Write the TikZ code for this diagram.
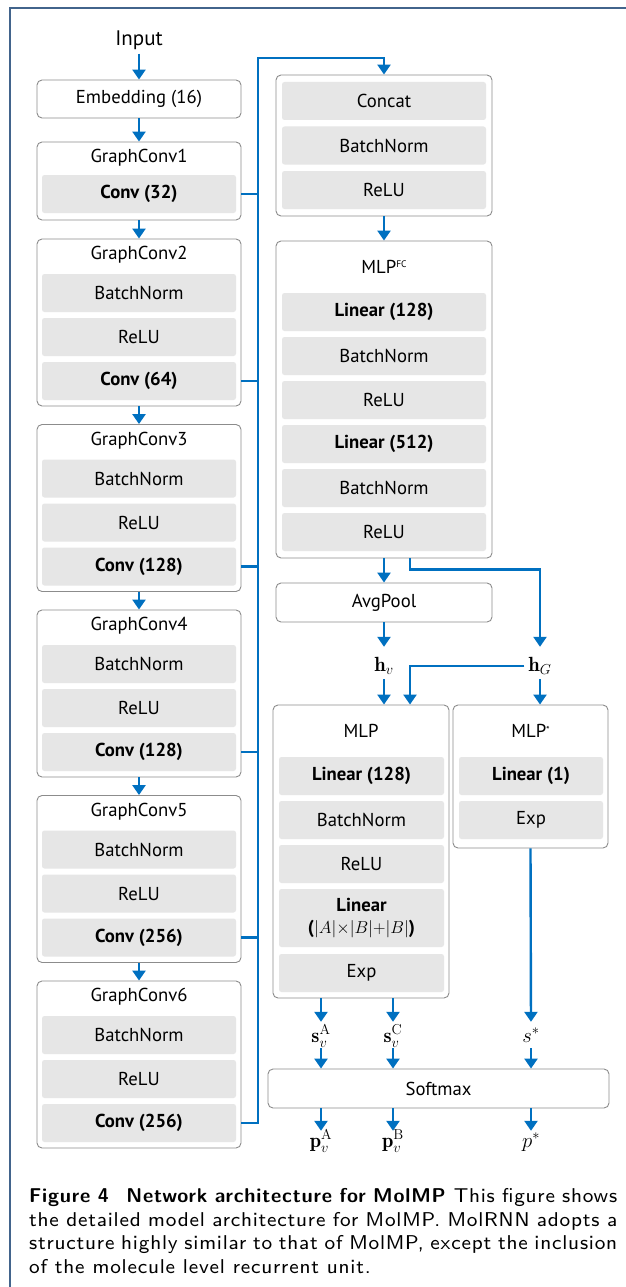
\documentclass[tikz,border=0pt]{standalone}
\usepackage{amsmath}
\usepackage{fontspec}
\usetikzlibrary{arrows.meta}
\newfontfamily\dfont{PT Sans}
\newfontfamily\capfont{lmsans8-regular.otf}[BoldFont=lmsans10-bold.otf, LetterSpace=4]
\definecolor{flow}{RGB}{0,112,192}
\definecolor{innerg}{RGB}{230,230,230}
\definecolor{outerg}{RGB}{140,140,140}
\definecolor{frameblue}{RGB}{66,100,140}
\newcommand\bx[7]{\node[#1, minimum width={(#5)-(#3)}, minimum height={(#6)-(#4)}] (#2) at ({((#3)+(#5))/2},{((#4)+(#6))/2}) {#7};}
\tikzset{
 outerbox/.style={draw=outerg, line width=0.9pt, fill=white, rounded corners=5pt, inner sep=0pt},
 innerbox/.style={fill=innerg, rounded corners=2.5pt, inner sep=0pt, align=center},
 ttl/.style={inner sep=0pt},
 lbl/.style={inner sep=0pt, text height=14pt, text depth=4pt, font=\fontsize{20.5}{23}\selectfont},
 biglbl/.style={lbl, font=\fontsize{22.5}{25}\selectfont},
 flowline/.style={draw=flow, line width=2.4pt},
 flowarrow/.style={flowline, -{Triangle[width=13pt,length=10pt]}},
}
\begin{document}
\begin{tikzpicture}[x=1pt,y=-1pt,font=\dfont\fontsize{18.7}{21.5}\selectfont]
\useasboundingbox (0,0) rectangle (626,1287);
\fill[white] (0,0) rectangle (626,1287);
\draw[frameblue, line width=1.6pt] (10,1287) -- (10,8) -- (626,8);

% ---- left column ----
\node[ttl, font=\dfont\fontsize{21}{24}\selectfont] (in) at (139,40) {Input};
\bx{outerbox}{emb}{37}{80}{241}{118}{Embedding (16)}

\bx{outerbox}{gc1}{37}{142}{241}{220}{}
\node[ttl] (t1) at (139,158) {GraphConv1};
\bx{innerbox}{conv1}{42}{175}{236}{213}{\bfseries Conv (32)}

\bx{outerbox}{gc2}{37}{239}{241}{406}{}
\node[ttl] (t2) at (139,255) {GraphConv2};
\bx{innerbox}{bn2}{42}{274}{236}{312}{BatchNorm}
\bx{innerbox}{re2}{42}{318}{236}{356}{ReLU}
\bx{innerbox}{conv2}{42}{362}{236}{400}{\bfseries Conv (64)}

\bx{outerbox}{gc3}{37}{424.5}{241}{591.5}{}
\node[ttl] (t3) at (139,440.5) {GraphConv3};
\bx{innerbox}{bn3}{42}{459.5}{236}{497.5}{BatchNorm}
\bx{innerbox}{re3}{42}{503.5}{236}{541.5}{ReLU}
\bx{innerbox}{conv3}{42}{547.5}{236}{585.5}{\bfseries Conv (128)}

\bx{outerbox}{gc4}{37}{610}{241}{777}{}
\node[ttl] (t4) at (139,626) {GraphConv4};
\bx{innerbox}{bn4}{42}{645}{236}{683}{BatchNorm}
\bx{innerbox}{re4}{42}{689}{236}{727}{ReLU}
\bx{innerbox}{conv4}{42}{733}{236}{771}{\bfseries Conv (128)}

\bx{outerbox}{gc5}{37}{795.5}{241}{962.5}{}
\node[ttl] (t5) at (139,811.5) {GraphConv5};
\bx{innerbox}{bn5}{42}{830.5}{236}{868.5}{BatchNorm}
\bx{innerbox}{re5}{42}{874.5}{236}{912.5}{ReLU}
\bx{innerbox}{conv5}{42}{918.5}{236}{956.5}{\bfseries Conv (256)}

\bx{outerbox}{gc6}{37}{981}{241}{1148}{}
\node[ttl] (t6) at (139,997) {GraphConv6};
\bx{innerbox}{bn6}{42}{1016}{236}{1054}{BatchNorm}
\bx{innerbox}{re6}{42}{1060}{236}{1098}{ReLU}
\bx{innerbox}{conv6}{42}{1104}{236}{1142}{\bfseries Conv (256)}

% ---- right column ----
\bx{outerbox}{cbox}{276}{75}{492}{216}{}
\bx{innerbox}{concat}{282}{82}{486}{120}{Concat}
\bx{innerbox}{cbn}{282}{126.5}{486}{164.5}{BatchNorm}
\bx{innerbox}{cre}{282}{171}{486}{209}{ReLU}

\bx{outerbox}{mlpfc}{276}{241}{492}{558}{}
\node[ttl] (tfc) at (384,267) {MLP\raisebox{6pt}{\fontsize{9.5}{9.5}\selectfont FC}};
\bx{innerbox}{fl1}{282}{293}{486}{331}{\bfseries Linear (128)}
\bx{innerbox}{fbn1}{282}{337}{486}{375}{BatchNorm}
\bx{innerbox}{fre1}{282}{381}{486}{419}{ReLU}
\bx{innerbox}{fl2}{282}{425}{486}{463}{\bfseries Linear (512)}
\bx{innerbox}{fbn2}{282}{469}{486}{507}{BatchNorm}
\bx{innerbox}{fre2}{282}{513}{486}{551}{ReLU}

\bx{outerbox}{avg}{276}{583}{492}{622}{AvgPool}

\node[lbl, anchor=base] (hv) at (384,671) {$\mathbf{h}_v$};
\node[lbl, anchor=base] (hG) at (540,671) {$\mathbf{h}_G$};

\bx{outerbox}{mlp}{273}{705}{449}{998}{}
\node[ttl] (tmlp) at (361,731) {MLP};
\bx{innerbox}{ml1}{279}{757}{444}{795}{\bfseries Linear (128)}
\bx{innerbox}{mbn}{279}{801}{444}{839}{BatchNorm}
\bx{innerbox}{mre}{279}{845}{444}{883}{ReLU}
\bx{innerbox}{ml2}{279}{889}{444}{947}{\bfseries Linear\\[1pt]{\bfseries(}$|A|{\times}|B|{+}|B|${\bfseries)}}
\bx{innerbox}{mexp}{279}{954}{444}{992}{Exp}

\bx{outerbox}{mlps}{453}{705}{608}{848}{}
\node[ttl] (tmlps) at (530.5,731) {MLP\raisebox{4pt}{\fontsize{10}{10}\selectfont *}};
\bx{innerbox}{sl1}{459}{757}{603}{795}{\bfseries Linear (1)}
\bx{innerbox}{sexp}{459}{801}{603}{839}{Exp}

\node[lbl, anchor=base, text height=15pt] (sA) at (321,1042) {$\mathbf{s}_v^{\mathrm{A}}$};
\node[lbl, anchor=base, text height=15pt] (sC) at (393,1042) {$\mathbf{s}_v^{\mathrm{C}}$};
\node[biglbl, anchor=base, text height=15pt] (ss) at (531,1042) {$s^*$};

\bx{outerbox}{soft}{268}{1069}{609}{1108}{Softmax}

\node[lbl, anchor=base, text height=15pt] (pA) at (321,1147) {$\mathbf{p}_v^{\mathrm{A}}$};
\node[lbl, anchor=base, text height=15pt] (pB) at (393,1147) {$\mathbf{p}_v^{\mathrm{B}}$};
\node[biglbl, anchor=base, text height=15pt] (ps) at (531,1147) {$p^*$};

% ---- connectors ----
\coordinate (bus) at (258,58);
\draw[flowarrow, shorten <=4pt] (in) -- (emb);
\draw[flowarrow] (emb) -- (gc1);
\draw[flowarrow] (gc1) -- (gc2);
\draw[flowarrow] (gc2) -- (gc3);
\draw[flowarrow] (gc3) -- (gc4);
\draw[flowarrow] (gc4) -- (gc5);
\draw[flowarrow] (gc5) -- (gc6);
\foreach \k in {1,...,5}{\draw[flowline] (conv\k -| gc\k.east) -- (conv\k -| bus);}
\draw[flowarrow] (conv6 -| gc6.east) -| (bus) -| (cbox.north);
\draw[flowarrow] (cbox) -- (mlpfc);
\draw[flowarrow] (mlpfc.south) -- (avg.north);
\draw[flowarrow, shorten >=10pt] (avg.south) -- (hv.north);
\draw[flowarrow, shorten >=10pt] ([xshift=26pt]mlpfc.south) -- ++(0,11) -| (hG.north);
\draw[flowarrow, shorten <=4pt] (hv.south) -- (hv.south |- mlp.north);
\draw[flowarrow, shorten <=4pt] (hG.west) -| ([xshift=49pt]mlp.north);
\draw[flowarrow, shorten <=4pt] (hG.south) -- (hG.south |- mlps.north);
\draw[flowarrow, shorten >=5pt] (sA.north |- mlp.south) -- (sA.north);
\draw[flowarrow, shorten >=5pt] (sC.north |- mlp.south) -- (sC.north);
\draw[flowarrow, shorten >=5pt] (mlps.south) -- (ss.north);
\draw[flowarrow, shorten <=2pt] (sA.south) -- (sA.south |- soft.north);
\draw[flowarrow, shorten <=2pt] (sC.south) -- (sC.south |- soft.north);
\draw[flowarrow, shorten <=2pt] (ss.south) -- (ss.south |- soft.north);
\draw[flowarrow, shorten >=1pt] (pA.north |- soft.south) -- (pA.north);
\draw[flowarrow, shorten >=1pt] (pB.north |- soft.south) -- (pB.north);
\draw[flowarrow, shorten >=1pt] (ps.north |- soft.south) -- (ps.north);

% ---- caption ----
\node[anchor=north west, inner sep=0pt, text width=588pt, align=justify,
      font=\capfont\fontsize{20}{23.7}\selectfont] (cap) at (29,1188)
 {\textbf{Figure 4\hspace{0.5em} Network architecture for MolMP} This figure shows\linebreak
  the detailed model architecture for MolMP. MolRNN adopts a\linebreak
  structure highly similar to that of MolMP, except the inclusion\linebreak
  of the molecule level recurrent unit.};
\end{tikzpicture}
\end{document}
